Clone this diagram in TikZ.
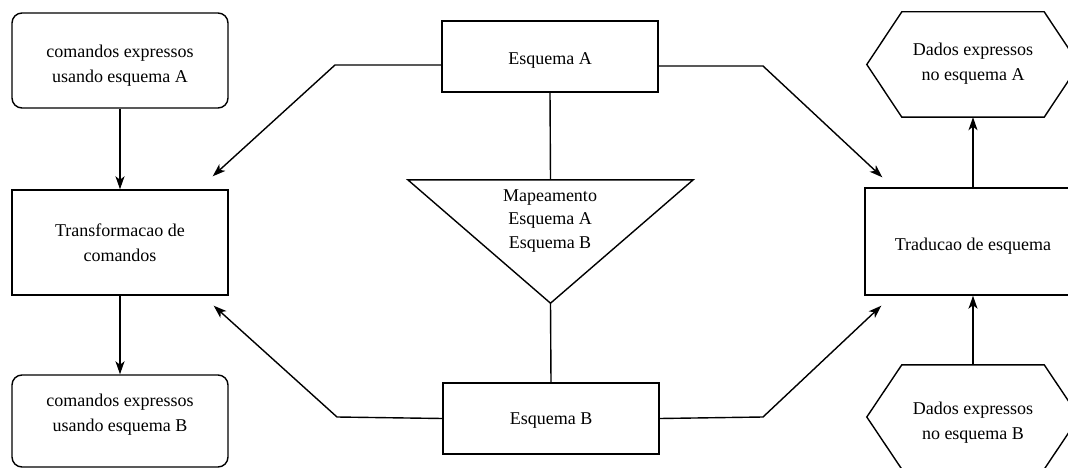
\documentclass[tikz,border=0pt]{standalone}
\usepackage{fontspec}
\setmainfont{Liberation Serif}
\usetikzlibrary{arrows.meta}
\begin{document}
\begin{tikzpicture}[x=1pt,y=-1pt,
  every node/.style={font=\fontsize{18}{25}\selectfont, align=center, inner sep=0pt},
  shp/.style={line width=1.4pt},
  sqbox/.style={draw, shp, minimum width=216pt},
  rbox/.style={draw, shp, minimum width=216pt, rounded corners=10pt},
  conn/.style={line width=1.4pt, -{Stealth[length=13pt,width=9pt,inset=3.5pt]}},
  plain/.style={line width=1.4pt}
  ]
\useasboundingbox (0,0) rectangle (1068,468);
\clip (0,0) rectangle (1068,468);

% left column
\node[rbox, minimum height=95pt, label={[yshift=-5pt]center:comandos expressos\\usando esquema A}] (cA) at (120,60.5) {};
\node[sqbox, minimum height=105pt] (TC) at (120,242.5) {Transformacao de\\comandos};
\node[rbox, minimum height=92pt, label={[yshift=6pt]center:comandos expressos\\usando esquema B}] (cB) at (120,421) {};

% centre column
\node[sqbox, minimum height=71pt, label={[yshift=-4pt]center:Esquema A}] (EA) at (550,56.5) {};
\node[sqbox, minimum height=71pt, label={[yshift=-2pt]center:Esquema B}] (EB) at (551,418.5) {};
\node[minimum width=285pt, minimum height=123pt] (map) at (550.5,241.5) {};
\draw[shp] (map.north west) -- (map.north east) -- (map.south) -- cycle;
\node[font=\fontsize{18}{23.5}\selectfont] (maptext) at (550,221) {Mapeamento\\Esquema A\\Esquema B};

% right column
\node[sqbox, minimum height=107pt, label={[yshift=-5pt]center:Traducao de esquema}] (TD) at (973,241.5) {};
\node[minimum width=212pt, minimum height=105pt, label={[yshift=1pt]center:Dados expressos\\no esquema A}] (HA) at (973,64.5) {};
\draw[shp] (HA.west) -- ([xshift=35pt]HA.north west) -- ([xshift=-35pt]HA.north east) -- (HA.east)
  -- ([xshift=-35pt]HA.south east) -- ([xshift=35pt]HA.south west) -- cycle;
\node[minimum width=212pt, minimum height=104pt, label={[yshift=-6pt]center:Dados expressos\\no esquema B}] (HB) at (973,417) {};
\draw[shp] (HB.west) -- ([xshift=35pt]HB.north west) -- ([xshift=-35pt]HB.north east) -- (HB.east)
  -- ([xshift=-35pt]HB.south east) -- ([xshift=35pt]HB.south west) -- cycle;

% bend points
\coordinate (bAL) at (335,65);
\coordinate (bAR) at (763,66);
\coordinate (bBL) at (337,417);
\coordinate (bBR) at (763,417);

% connectors
\draw[conn] (cA.south) -- (TC.north);
\draw[conn] (TC.south) -- (cB.north);
\draw[conn] (TD.north) -- (HA.south);
\draw[conn] (HB.north) -- (TD.south);
\draw[plain] (EA.south) -- (map.north);
\draw[plain] (map.south) -- (EB.north);
\draw[conn] ([yshift=-8.5pt]EA.west) -- (bAL) -- ([xshift=-16pt,yshift=13pt]TC.north east);
\draw[conn] ([yshift=-9.5pt]EA.east) -- (bAR) -- ([xshift=18pt,yshift=10pt]TD.north west);
\draw[conn] (EB.west) -- (bBL) -- ([xshift=-15pt,yshift=-10pt]TC.south east);
\draw[conn] (EB.east) -- (bBR) -- ([xshift=17pt,yshift=-10pt]TD.south west);
\end{tikzpicture}
\end{document}
